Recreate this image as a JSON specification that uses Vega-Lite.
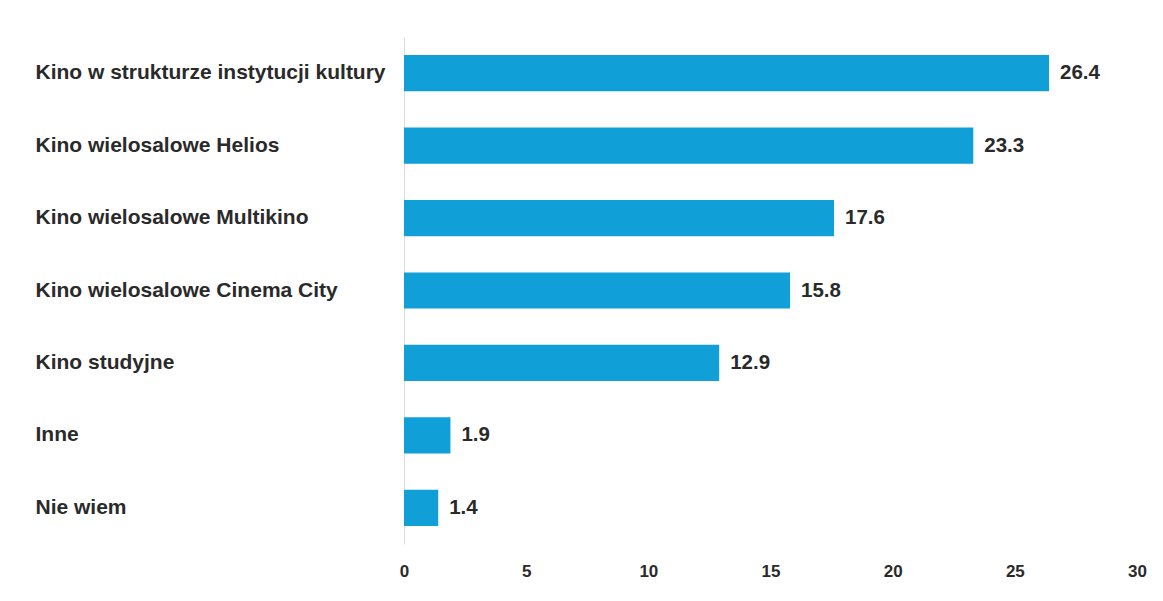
{
  "$schema": "https://vega.github.io/schema/vega-lite/v6.json",
  "width": 733,
  "height": 507,
  "padding": {"left": 35, "top": 37, "right": 18, "bottom": 20},
  "background": "white",
  "config": {
    "view": {"stroke": null},
    "font": "Liberation Sans"
  },
  "data": {
    "values": [
      {"kategoria": "Kino w strukturze instytucji kultury", "wartosc": 26.4},
      {"kategoria": "Kino wielosalowe Helios", "wartosc": 23.3},
      {"kategoria": "Kino wielosalowe Multikino", "wartosc": 17.6},
      {"kategoria": "Kino wielosalowe Cinema City", "wartosc": 15.8},
      {"kategoria": "Kino studyjne", "wartosc": 12.9},
      {"kategoria": "Inne", "wartosc": 1.9},
      {"kategoria": "Nie wiem", "wartosc": 1.4}
    ]
  },
  "encoding": {
    "y": {
      "field": "kategoria",
      "type": "nominal",
      "sort": null,
      "scale": {"paddingInner": 0.5, "paddingOuter": 0.25},
      "axis": {
        "title": null,
        "ticks": false,
        "labelAlign": "left",
        "labelPadding": 369,
        "labelLimit": 420,
        "labelFont": "Liberation Sans",
        "labelFontSize": 21,
        "labelFontWeight": "bold",
        "labelColor": "#2a2a2a",
        "domainColor": "#dddddd",
        "domainWidth": 1,
        "grid": false
      }
    },
    "x": {
      "field": "wartosc",
      "type": "quantitative",
      "scale": {"domain": [0, 30], "nice": false},
      "axis": {
        "title": null,
        "values": [0, 5, 10, 15, 20, 25, 30],
        "ticks": false,
        "domain": false,
        "grid": false,
        "labelPadding": 19,
        "labelFont": "Liberation Sans",
        "labelFontSize": 17,
        "labelFontWeight": "bold",
        "labelColor": "#2a2a2a",
        "labelFlush": false
      }
    }
  },
  "layer": [
    {
      "mark": {"type": "bar", "color": "#109fd6"}
    },
    {
      "mark": {
        "type": "text",
        "align": "left",
        "baseline": "middle",
        "dx": 11,
        "font": "Liberation Sans",
        "fontSize": 20.5,
        "fontWeight": "bold",
        "color": "#2a2a2a"
      },
      "encoding": {
        "text": {"field": "wartosc", "type": "quantitative", "format": ".1f"}
      }
    }
  ]
}
